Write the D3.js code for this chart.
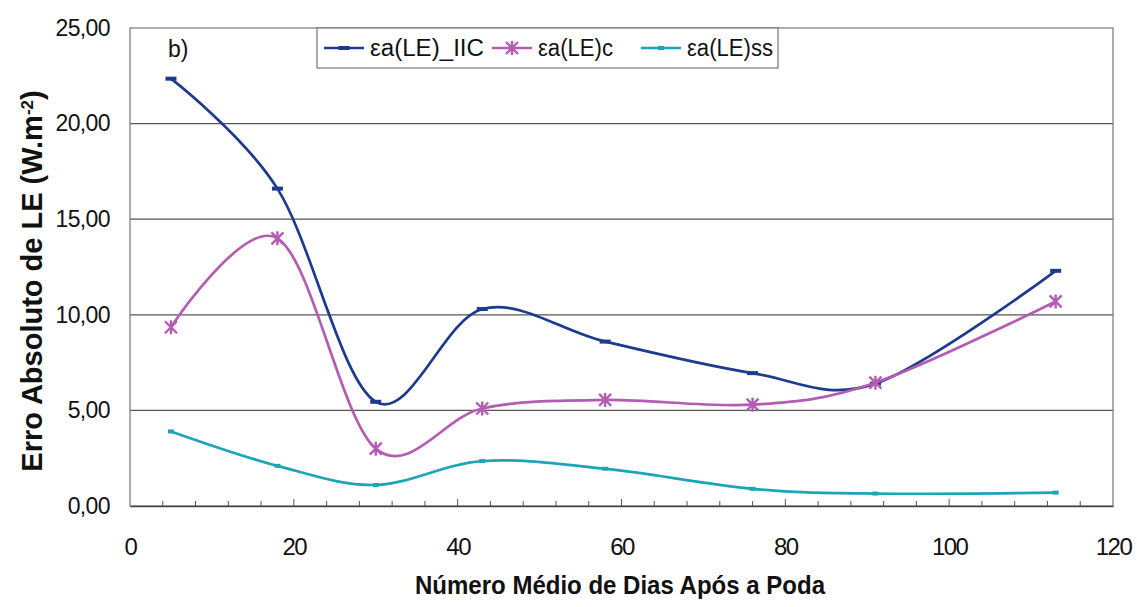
<!DOCTYPE html>
<html><head><meta charset="utf-8">
<script src="https://cdn.jsdelivr.net/npm/d3@7"></script>
<style>body{margin:0;background:#fff;} svg{display:block;font-family:"Liberation Sans",Arial,sans-serif;}</style>
</head><body>
<svg id="c" width="1137" height="607"></svg>
<script>
const days = [5, 18, 30, 43, 58, 76, 91, 113];
const seriesNames = ["εa(LE)_IIC", "εa(LE)c", "εa(LE)ss"];
const valuesIIC = [22.35, 16.6, 5.45, 10.3, 8.6, 6.95, 6.4, 12.3];
const valuesC   = [9.35, 14.0, 3.0, 5.1, 5.55, 5.3, 6.45, 10.7];
const valuesSS  = [3.9, 2.1, 1.1, 2.35, 1.95, 0.9, 0.65, 0.7];
const yTicks = [0, 5, 10, 15, 20, 25];
const xTicks = [0, 20, 40, 60, 80, 100, 120];
const colors = ["#1d3b8e", "#b45cb4", "#1ba5b6"];
const markers = ["dash", "star", "dash"];

const svg = d3.select("#c");
const L = 130, R = 1113, T = 28, B = 506;
const x = d3.scaleLinear().domain([0, 120]).range([L, R]);
const y = d3.scaleLinear().domain([0, 25]).range([B, T]);
const fmt = v => d3.format(".2f")(v).replace(".", ",");

// gridlines
svg.append("g").selectAll("line").data(yTicks.filter(v => v > 0 && v < 25)).join("line")
  .attr("x1", L).attr("x2", R).attr("y1", d => y(d)).attr("y2", d => y(d))
  .attr("stroke", "#555").attr("stroke-width", 1.2);
// plot border
svg.append("rect").attr("x", L).attr("y", T).attr("width", R - L).attr("height", B - T)
  .attr("fill", "none").attr("stroke", "#777").attr("stroke-width", 1.2);

// x axis
const xAxis = d3.axisBottom(x).tickValues(xTicks).tickSize(0).tickPadding(32).tickFormat(d3.format("d"));
const gx = svg.append("g").attr("transform", `translate(0,${B})`).call(xAxis);
gx.select(".domain").attr("stroke", "#444").attr("stroke-width", 1.5);
gx.selectAll("text").attr("font-size", 24).attr("fill", "#111").attr("font-family", "Liberation Sans, Arial")
  .attr("letter-spacing", -1.5);
// minor ticks (inside)
svg.append("g").selectAll("line").data(d3.range(4, 120, 4)).join("line")
  .attr("x1", d => x(d)).attr("x2", d => x(d)).attr("y1", B).attr("y2", d => d % 20 === 0 ? B - 7 : B - 5)
  .attr("stroke", "#555").attr("stroke-width", 1);

// y axis
const yAxis = d3.axisLeft(y).tickValues(yTicks).tickSize(0).tickPadding(20).tickFormat(fmt);
const gy = svg.append("g").attr("transform", `translate(${L},0)`).call(yAxis);
gy.select(".domain").remove();
gy.selectAll("text").attr("font-size", 23).attr("fill", "#111").attr("font-family", "Liberation Sans, Arial")
  .attr("letter-spacing", -0.6);

// titles
svg.append("text").attr("x", 620).attr("y", 594).attr("text-anchor", "middle")
  .attr("font-size", 26).attr("font-weight", "bold").attr("fill", "#111")
  .attr("textLength", 410).attr("lengthAdjust", "spacingAndGlyphs")
  .text("Número Médio de Dias Após a Poda");
const yt = svg.append("text").attr("transform", `translate(42,${281}) rotate(-90)`)
  .attr("text-anchor", "middle").attr("font-size", 29).attr("font-weight", "bold").attr("fill", "#111");
yt.append("tspan").text("Erro Absoluto de LE (W.m");
yt.append("tspan").attr("baseline-shift", "super").attr("font-size", 17).text("-2");
yt.append("tspan").text(")");

svg.append("text").attr("x", 168).attr("y", 57).attr("font-size", 23).attr("fill", "#111").text("b)");

// series
const all = [valuesIIC, valuesC, valuesSS];
const line = d3.line().x((d, i) => x(days[i])).y(d => y(d)).curve(d3.curveCardinal.tension(0));
function drawMarker(g, type, cx, cy, col, small) {
  if (type === "dash") {
    const w = small ? 6 : 11;
    g.append("rect").attr("x", cx - w / 2).attr("y", cy - 2).attr("width", w).attr("height", 4).attr("fill", col);
  } else {
    const r = 6;
    const p = d3.path();
    p.moveTo(cx - r, cy - r); p.lineTo(cx + r, cy + r);
    p.moveTo(cx - r, cy + r); p.lineTo(cx + r, cy - r);
    p.moveTo(cx, cy - r - 1); p.lineTo(cx, cy + r + 1);
    g.append("path").attr("d", p.toString()).attr("stroke", col).attr("stroke-width", 2.4).attr("fill", "none");
  }
}
all.forEach((vals, s) => {
  const g = svg.append("g");
  g.append("path").datum(vals).attr("d", line).attr("fill", "none")
    .attr("stroke", colors[s]).attr("stroke-width", 2.7);
  vals.forEach((v, i) => drawMarker(g, markers[s], x(days[i]), y(v), colors[s], s === 2));
});

// legend
const lg = svg.append("g");
lg.append("rect").attr("x", 317).attr("y", T).attr("width", 461).attr("height", 40)
  .attr("fill", "#fff").attr("stroke", "#777").attr("stroke-width", 1.2);
const legX = [324, 492, 641];
const legW = [114, 75, 86];
seriesNames.forEach((n, s) => {
  const lx = legX[s], ly = 48;
  lg.append("line").attr("x1", lx).attr("x2", lx + 40).attr("y1", ly).attr("y2", ly)
    .attr("stroke", colors[s]).attr("stroke-width", 2.7);
  drawMarker(lg, markers[s], lx + 20, ly, colors[s], s === 2);
  lg.append("text").attr("x", lx + 46).attr("y", ly + 8).attr("font-size", 23).attr("fill", "#111")
    .attr("textLength", legW[s]).attr("lengthAdjust", "spacingAndGlyphs").text(n);
});
</script>
</body></html>
